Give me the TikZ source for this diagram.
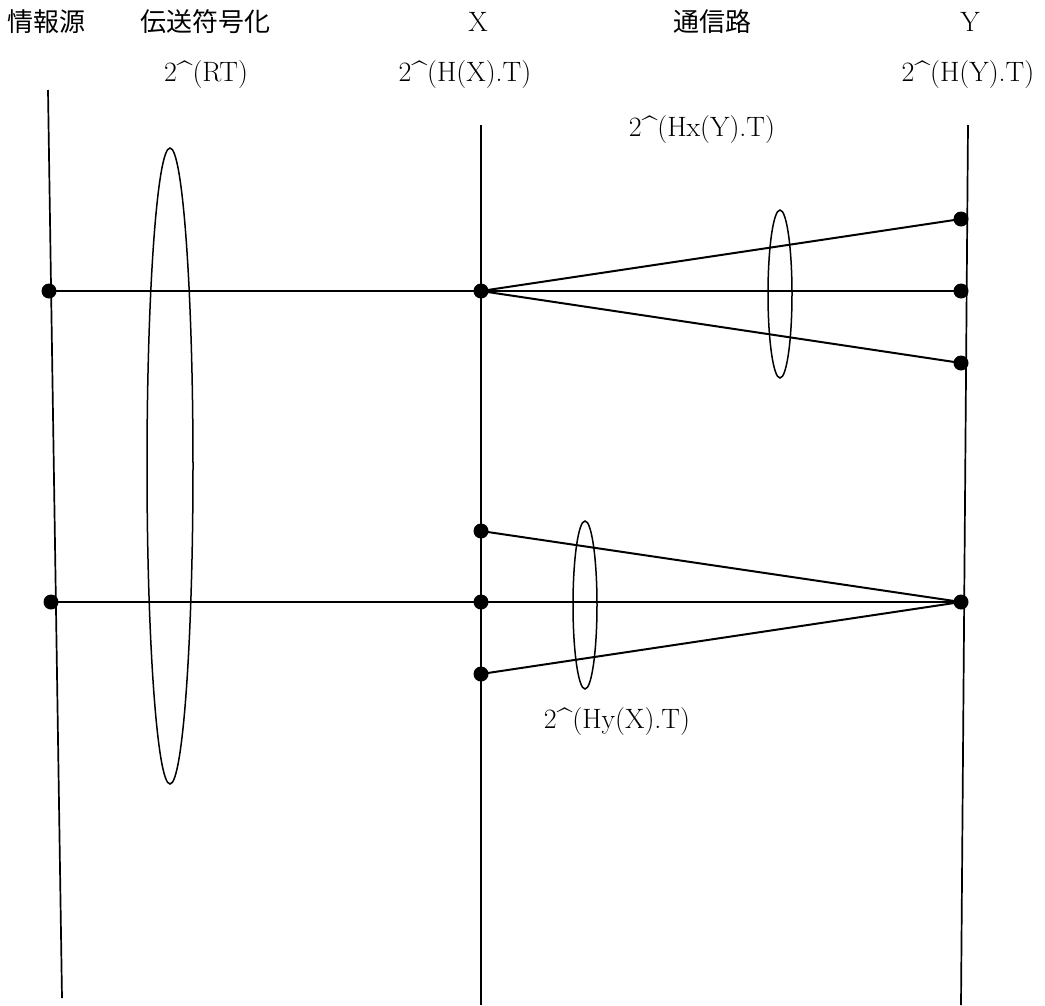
\documentclass[tikz,border=0pt]{standalone}
\usepackage{fontspec}
\newfontfamily\cjk{Noto Sans CJK JP}
\begin{document}
\begin{tikzpicture}[x=1pt,y=-1pt,
  dot/.style={circle,fill=black,inner sep=0pt,minimum size=15pt},
  conn/.style={line width=2pt},
  axis/.style={line width=1.7pt},
  lens/.style={line width=1.5pt},
  lbl/.style={inner sep=0pt,font=\fontsize{28}{32}\selectfont},
  jlbl/.style={inner sep=0pt,font=\fontsize{26}{30}\selectfont\cjk}]
\useasboundingbox (0,0) rectangle (1045,1005);
% vertical axes
\coordinate (s1) at (48,90);  \coordinate (s2) at (62,998);
\coordinate (x1) at (481,125); \coordinate (x2) at (481,1005);
\coordinate (y1) at (968,125); \coordinate (y2) at (961,1005);
\draw[axis] (s1) -- (s2);
\draw[axis] (x1) -- (x2);
\draw[axis] (y1) -- (y2);
% dots
\node[dot] (sa) at (49,291) {};
\node[dot] (sb) at (51,602) {};
\node[dot] (xa) at (481,291) {};
\node[dot] (xb) at (481,531) {};
\node[dot] (xc) at (481,602) {};
\node[dot] (xd) at (481,674) {};
\node[dot] (ya) at (961,219) {};
\node[dot] (yb) at (961,291) {};
\node[dot] (yc) at (961,363) {};
\node[dot] (yd) at (961,602) {};
% connectors
\draw[conn] (sa.center) -- (yb.center);
\draw[conn] (sb.center) -- (yd.center);
\draw[conn] (xa.center) -- (ya.center);
\draw[conn] (xa.center) -- (yc.center);
\draw[conn] (xb.center) -- (yd.center);
\draw[conn] (xd.center) -- (yd.center);
% ellipses
\draw[lens] (170,466) ellipse [x radius=23pt, y radius=318pt];
\draw[lens] (780,294) ellipse [x radius=12pt, y radius=84pt];
\draw[lens] (585,605) ellipse [x radius=12pt, y radius=84pt];
% labels
\node[jlbl] (t1) at (47,22) {情報源};
\node[jlbl] (t2) at (205,22) {伝送符号化};
\node[lbl] (t3) at (478,22) {X};
\node[jlbl] (t4) at (712,22) {通信路};
\node[lbl] (t5) at (970,22) {Y};
\node[lbl] (r1) at (206,75) {2\textasciicircum(RT)};
\node[lbl] (r2) at (465,75) {2\textasciicircum(H(X).T)};
\node[lbl] (r3) at (968,75) {2\textasciicircum(H(Y).T)};
\node[lbl] (r4) at (702,130) {2\textasciicircum(Hx(Y).T)};
\node[lbl] (r5) at (617,722) {2\textasciicircum(Hy(X).T)};
\end{tikzpicture}
\end{document}
